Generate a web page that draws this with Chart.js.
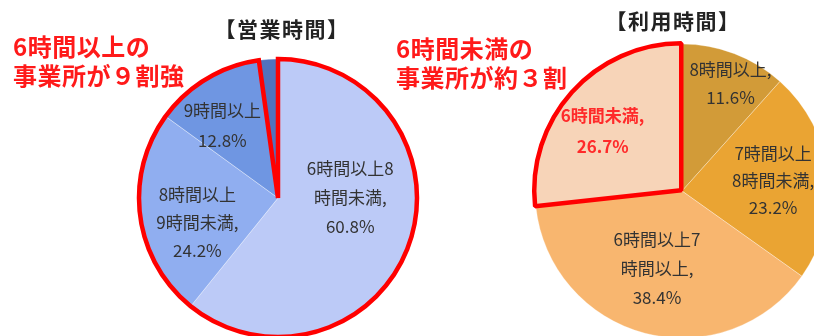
<!DOCTYPE html>
<html>
<head>
<meta charset="utf-8">
<script src="https://cdn.jsdelivr.net/npm/chart.js@4.4.1/dist/chart.umd.min.js"></script>
<style>
html,body{margin:0;padding:0;overflow:hidden;background:#fff;}
#wrap{position:relative;width:814px;height:336px;overflow:hidden;background:#fff;font-family:"Noto Sans CJK JP","Noto Sans",sans-serif;}
canvas{position:absolute;}
.title{position:absolute;font-weight:bold;font-size:21px;letter-spacing:1.5px;color:#222;white-space:nowrap;transform:translate(-50%,-50%);z-index:3;}
.note{position:absolute;font-weight:bold;font-size:24px;line-height:29px;color:#ff1a1a;white-space:nowrap;z-index:3;letter-spacing:0.5px;}
</style>
</head>
<body>
<div id="wrap">
  <canvas id="leftPie" width="340" height="340" style="left:108px;top:28px;"></canvas>
  <canvas id="rightPie" width="340" height="340" style="left:512px;top:21px;"></canvas>
  <div class="title" id="t1" style="left:282px;top:28px;"></div>
  <div class="title" id="t2" style="left:673px;top:20px;"></div>
  <div class="note" id="n1" style="left:13px;top:31px;"></div>
  <div class="note" id="n2" style="left:396px;top:33px;"></div>
</div>
<script>
// ---- data ----
const opTitle = '【営業時間】';
const opCategories = ['6時間以上8時間未満', '8時間以上9時間未満', '9時間以上', '6時間未満'];
const opValues = [60.8, 24.2, 12.8, 2.2];
const opLabelLines = [['6時間以上8', '時間未満,'], ['8時間以上', '9時間未満,'], ['9時間以上'], []];

const useTitle = '【利用時間】';
const useCategories = ['8時間以上', '7時間以上8時間未満', '6時間以上7時間以上', '6時間未満'];
const useValues = [11.6, 23.2, 38.4, 26.7];
const useLabelLines = [['8時間以上,'], ['7時間以上', '8時間未満,'], ['6時間以上7', '時間以上,'], ['6時間未満,']];

const noteLeft = ['6時間以上の', '事業所が９割強'];
const noteRight = ['6時間未満の', '事業所が約３割'];

// ---- text ----
document.getElementById('t1').textContent = opTitle;
document.getElementById('t2').textContent = useTitle;
document.getElementById('n1').innerHTML = noteLeft.join('<br>');
document.getElementById('n2').innerHTML = noteRight.join('<br>');

// ---- label plugin ----
const labelPlugin = {
  id: 'sliceLabels',
  afterDatasetsDraw(chart, args, opts) {
    const ctx = chart.ctx;
    const meta = chart.getDatasetMeta(0);
    const values = chart.data.datasets[0].data;
    meta.data.forEach((arc, i) => {
      const lines = opts.lines[i];
      if (!lines || !lines.length) return;
      const all = lines.concat([values[i].toFixed(1) + '%']);
      const p = opts.pos[i];
      const r = arc.outerRadius;
      const cx = arc.x + p[0] * r;
      const cy = arc.y + p[1] * r;
      const lh = opts.lineHeight[i];
      ctx.save();
      ctx.font = (opts.bold[i] ? 'bold ' : '') + '17px "Noto Sans CJK JP", sans-serif';
      ctx.fillStyle = opts.colors[i];
      ctx.textAlign = 'center';
      ctx.textBaseline = 'middle';
      const y0 = cy - (all.length - 1) * lh / 2;
      all.forEach((t, k) => ctx.fillText(t, cx, y0 + k * lh));
      ctx.restore();
    });
  }
};

// ---- red outline around the union of the first slices (left pie) ----
const outlinePlugin = {
  id: 'unionOutline',
  afterDatasetsDraw(chart, args, opts) {
    if (!opts.enabled) return;
    const meta = chart.getDatasetMeta(0);
    const a = meta.data[opts.from], b = meta.data[opts.to];
    const ctx = chart.ctx;
    ctx.save();
    ctx.beginPath();
    ctx.moveTo(a.x, a.y);
    ctx.arc(a.x, a.y, a.outerRadius, a.startAngle, b.endAngle);
    ctx.closePath();
    ctx.lineWidth = 4.5;
    ctx.lineJoin = 'miter';
    ctx.strokeStyle = '#ff0000';
    ctx.stroke();
    ctx.restore();
  }
};

const commonOpts = {
  responsive: false,
  animation: false,
  devicePixelRatio: 1,
  layout: { padding: 0 },
  plugins: { legend: { display: false }, tooltip: { enabled: false } }
};

new Chart(document.getElementById('leftPie'), {
  type: 'pie',
  data: {
    labels: opCategories,
    datasets: [{
      data: opValues,
      backgroundColor: ['#bccaf7', '#90aef0', '#6f96e2', '#5272bd'],
      borderColor: 'rgba(255,255,255,0.35)',
      borderWidth: 1
    }]
  },
  options: Object.assign({}, commonOpts, {
    radius: 139,
    plugins: Object.assign({}, commonOpts.plugins, {
      unionOutline: { enabled: true, from: 0, to: 2 },
      sliceLabels: {
        lines: opLabelLines,
        pos: [[0.52, 0.0], [-0.58, 0.18], [-0.40, -0.52], [0, 0]],
        lineHeight: [29, 28, 30, 28],
        colors: ['#333', '#333', '#333', '#333'],
        bold: [false, false, false, false]
      }
    })
  }),
  plugins: [outlinePlugin, labelPlugin]
});

new Chart(document.getElementById('rightPie'), {
  type: 'pie',
  data: {
    labels: useCategories,
    datasets: [{
      data: useValues,
      backgroundColor: ['#d29b38', '#eaa433', '#f8b66f', '#f7d4b8'],
      borderColor: ['rgba(255,255,255,0.3)', 'rgba(255,255,255,0.3)', 'rgba(255,255,255,0.3)', '#ff0000'],
      borderWidth: [1, 1, 1, 4.5],
      offset: [0, 0, 0, 4]
    }]
  },
  options: Object.assign({}, commonOpts, {
    radius: 147,
    plugins: Object.assign({}, commonOpts.plugins, {
      unionOutline: { enabled: false },
      sliceLabels: {
        lines: useLabelLines,
        pos: [[0.33, -0.73], [0.62, -0.07], [-0.17, 0.53], [-0.54, -0.41]],
        lineHeight: [28, 27, 29, 31],
        colors: ['#333', '#333', '#333', '#ff2a2a'],
        bold: [false, false, false, true]
      }
    })
  }),
  plugins: [outlinePlugin, labelPlugin]
});
</script>
</body>
</html>
